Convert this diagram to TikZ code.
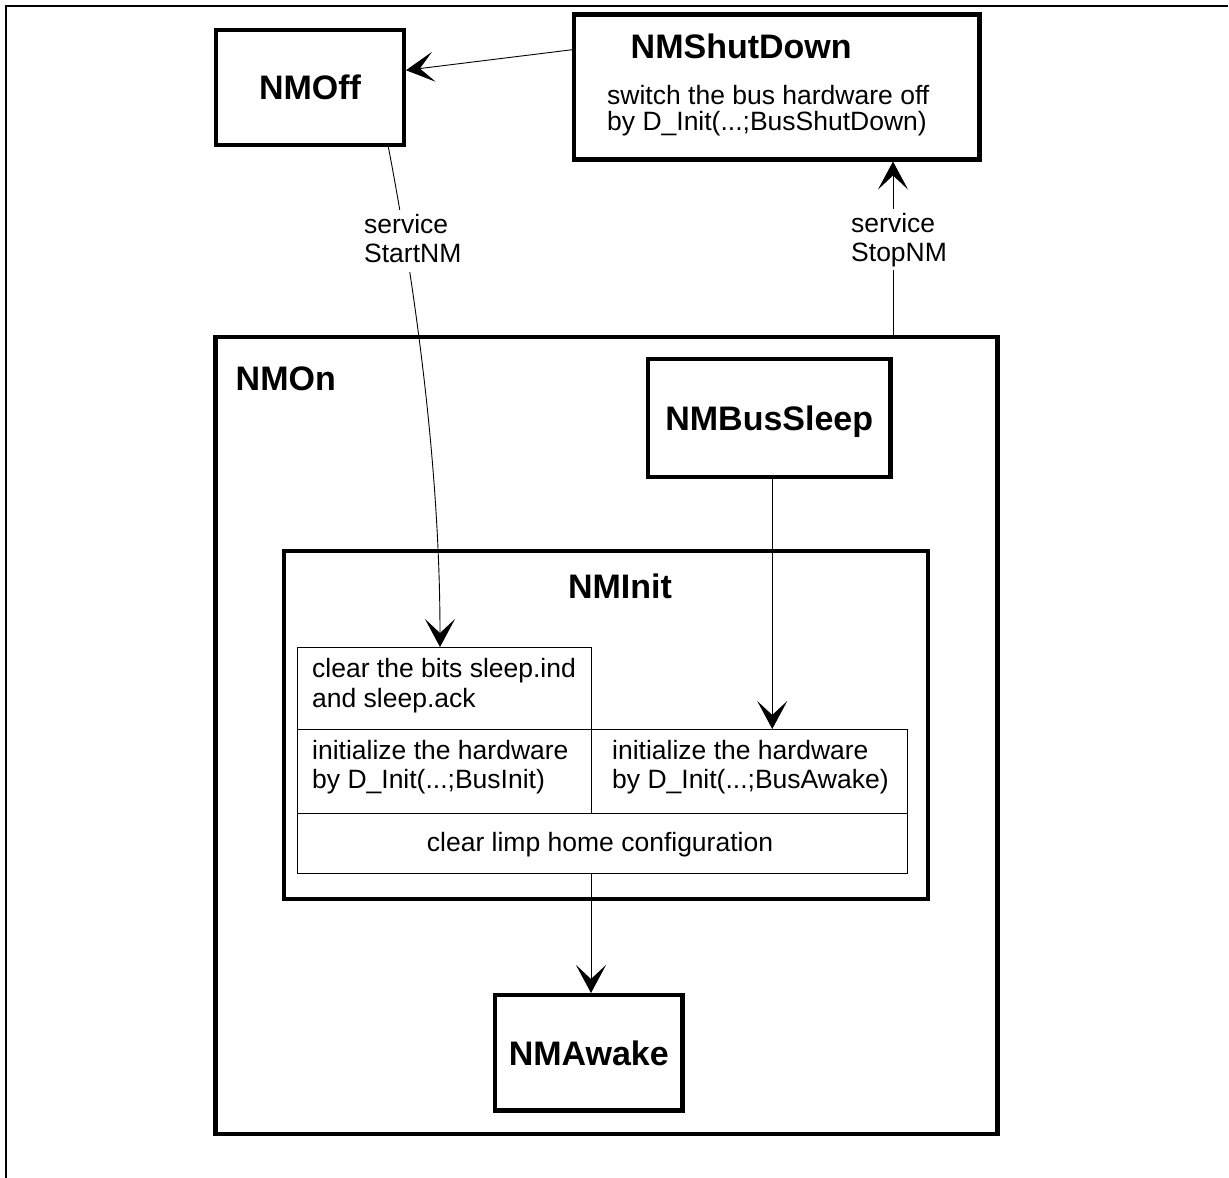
\documentclass[tikz,border=0pt]{standalone}
\usepackage{fontspec}
\setmainfont{Liberation Sans}
\usetikzlibrary{arrows.meta,calc}
\newcommand\mytitlefont{\fontsize{34}{38}\selectfont\bfseries}
\newcommand\mybodyfont{\fontsize{26.5}{29.5}\selectfont}
\begin{document}
\begin{tikzpicture}[x=1pt,y=-1pt,
  box/.style={draw, line width=4.5pt, rectangle, inner sep=0pt, outer sep=0pt, font=\mytitlefont, text depth=0pt},
  cell/.style={draw, line width=0.9pt, rectangle, inner sep=0pt, outer sep=0pt},
  txt/.style={inner sep=0pt, anchor=base west, font=\mybodyfont},
  ttl/.style={inner sep=0pt, anchor=base west, font=\mytitlefont},
  lbl/.style={fill=white, inner xsep=3pt, inner ysep=3pt, anchor=base west, font=\mybodyfont, text height=20pt, text depth=6pt},
  arr/.style={line width=0.9pt, -{Stealth[length=28pt,width=30pt,inset=14pt]}}]
\useasboundingbox (0,0) rectangle (1229,1178);
% outer frame
\draw[line width=2.3pt] (6,1178) -- (6,6) -- (1228,6);
% state boxes
\node[box, minimum width=188pt, minimum height=115pt] (off) at (310,87.5) {NMOff};
\node[box, minimum width=405.5pt, minimum height=145pt] (shut) at (776.7,87) {};
\node[box, minimum width=782pt, minimum height=797pt] (on) at (606.5,735.5) {};
\node[box, minimum width=644pt, minimum height=348pt] (init) at (606,725) {};
\node[box, minimum width=242.5pt, minimum height=118pt] (bus) at (769.25,418) {NMBusSleep};
\node[box, minimum width=187.5pt, minimum height=115.5pt] (awake) at (588.75,1052.75) {NMAwake};
% titles
\node[ttl] (shutT) at (630.5,58.3) {NMShutDown};
\node[ttl] (onT) at (235.5,390.7) {NMOn};
\node[ttl, anchor=base] (initT) at (620,598) {NMInit};
\node[txt] (shutA) at (607,104) {switch the bus hardware off};
\node[txt] (shutB) at (607,130) {by D\_Init(...;BusShutDown)};
% table cells
\node[cell, minimum width=294pt, minimum height=82pt] (c1) at (444,688) {};
\node[cell, minimum width=294pt, minimum height=84pt] (c2) at (444,771) {};
\node[cell, minimum width=316pt, minimum height=84pt] (c3) at (749,771) {};
\node[cell, minimum width=610pt, minimum height=60pt] (c4) at (602,843) {};
\node[txt] (c1a) at (312,677) {clear the bits sleep.ind};
\node[txt] (c1b) at (312,707) {and sleep.ack};
\node[txt] (c2a) at (312,759) {initialize the hardware};
\node[txt] (c2b) at (312,788) {by D\_Init(...;BusInit)};
\node[txt] (c3a) at (612,759) {initialize the hardware};
\node[txt] (c3b) at (612,788) {by D\_Init(...;BusAwake)};
\node[txt, anchor=base] (c4a) at (600,851) {clear limp home configuration};
% connectors
\draw[arr, shorten >=2pt] ([yshift=37.5pt]shut.west) -- ([yshift=17pt]off.east);
\draw[arr] ([xshift=78pt]off.south) .. controls (410,260) and (440,450) .. ([xshift=-4pt]c1.north);
\draw[arr, shorten >=2pt] ([xshift=286.5pt]on.north) -- ([xshift=286.5pt]on.north |- shut.south);
\draw[arr] ([xshift=3pt]bus.south) -- ([xshift=3pt]bus.south |- c3.north);
\draw[arr, shorten >=2pt] (c2.south east |- c4.south) -- (c2.south east |- awake.north);
% labels
\node[lbl] (s1a) at (361,233) {service};
\node[lbl] (s1b) at (361,262.5) {StartNM};
\node[lbl] (s2a) at (848,232) {service};
\node[lbl] (s2b) at (848,261) {StopNM};
\end{tikzpicture}
\end{document}
